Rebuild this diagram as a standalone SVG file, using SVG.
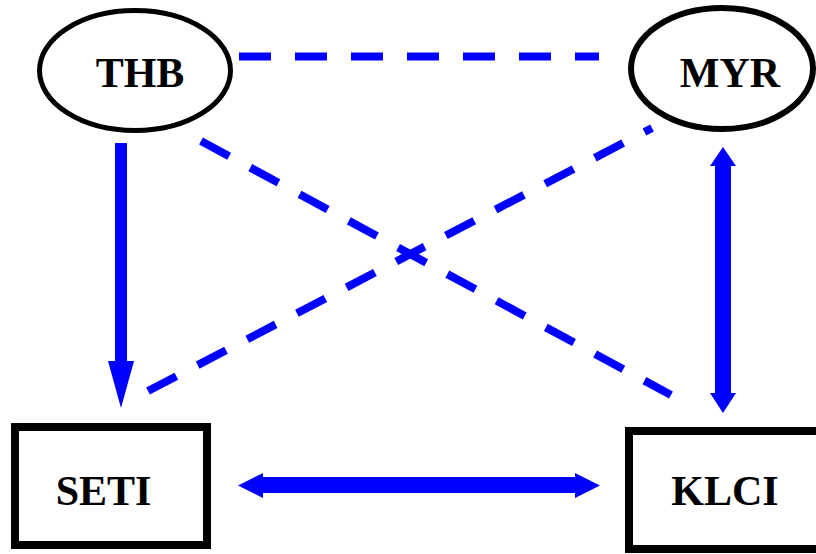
<svg xmlns="http://www.w3.org/2000/svg" width="816" height="554" viewBox="0 0 816 554">
<style>
.node{fill:#fff;stroke:#000}
.ell{stroke-width:5}
.box{stroke-width:8}
.lbl{font-family:"Liberation Serif","Times New Roman",serif;font-weight:bold;font-size:42px;text-anchor:middle;fill:#000}
.dash{fill:none;stroke:#0000ff;stroke-width:8;stroke-dasharray:32 24}
.solid{fill:#0000ff;stroke:none}
</style>
<rect width="816" height="554" fill="#fff"/>
<g id="connectors">
<line class="dash" x1="239" y1="56.5" x2="599" y2="56.5"/>
<line class="dash" x1="201" y1="141" x2="671" y2="395"/>
<line class="dash" x1="148" y1="391" x2="652" y2="128"/>
<g id="thb-seti">
<rect class="solid" x="115" y="143" width="12" height="220"/>
<polygon class="solid" points="108,361 134,361 121,408"/>
</g>
<g id="myr-klci">
<rect class="solid" x="715" y="164" width="16" height="231"/>
<polygon class="solid" points="710,166 736,166 723,147"/>
<polygon class="solid" points="710,393 736,393 723,413"/>
</g>
<g id="seti-klci">
<rect class="solid" x="261" y="477" width="316" height="16"/>
<polygon class="solid" points="263,473 263,498 238,485.5"/>
<polygon class="solid" points="575,473 575,498 600,485.5"/>
</g>
</g>
<g id="THB">
<ellipse class="node ell" cx="135" cy="70.5" rx="95.5" ry="60"/>
<text class="lbl" x="140" y="87">THB</text>
</g>
<g id="MYR">
<ellipse class="node ell" cx="722" cy="68.5" rx="91" ry="60.5" style="stroke-width:6"/>
<text class="lbl" x="730" y="87">MYR</text>
</g>
<g id="SETI">
<rect class="node box" x="15" y="427" width="192" height="118"/>
<text class="lbl" x="103.5" y="505">SETI</text>
</g>
<g id="KLCI">
<rect class="node box" x="629" y="431" width="200" height="118"/>
<text class="lbl" x="725" y="505">KLCI</text>
</g>
</svg>
